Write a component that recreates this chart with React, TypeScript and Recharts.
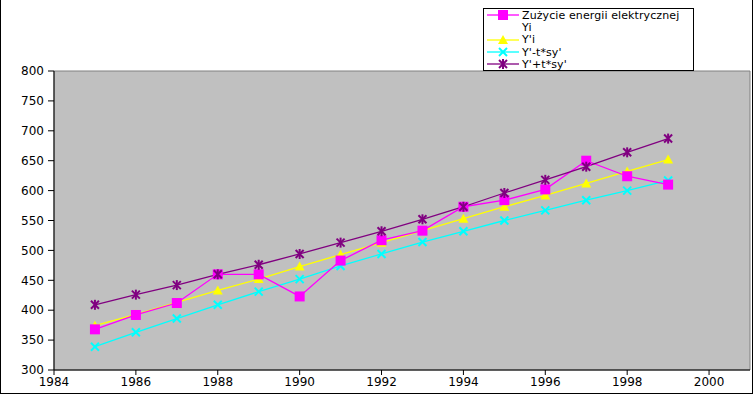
import { LineChart, Line, XAxis, YAxis, ReferenceArea } from 'recharts'

const years = [1985, 1986, 1987, 1988, 1989, 1990, 1991, 1992, 1993, 1994, 1995, 1996, 1997, 1998, 1999]
const usage = [368, 392, 412, 460, 460, 423, 483, 517, 533, 573, 584, 602, 650, 624, 610]
const trend = [374, 393, 413, 433, 452, 473, 493, 513, 533, 553, 573, 592, 612, 632, 652]
const lower = [339, 363, 386, 409, 431, 452, 474, 494, 514, 532, 550, 567, 584, 600, 617]
const upper = [409, 426, 442, 460, 476, 494, 513, 532, 552, 573, 596, 618, 640, 664, 687]

const xTicks = [1984, 1986, 1988, 1990, 1992, 1994, 1996, 1998, 2000]
const yTicks = [300, 350, 400, 450, 500, 550, 600, 650, 700, 750, 800]

const legendRows = [
  { label: 'Zużycie energii elektrycznej', color: '#ff00ff', shape: 'square' },
  { label: 'Yi', color: '', shape: '' },
  { label: "Y'i", color: '#ffff00', shape: 'triangle' },
  { label: "Y'-t*sy'", color: '#00ffff', shape: 'cross' },
  { label: "Y'+t*sy'", color: '#800080', shape: 'star' },
]

const data = years.map((year, i) => ({
  year,
  usage: usage[i],
  trend: trend[i],
  lower: lower[i],
  upper: upper[i],
}))

const FONT = '"DejaVu Sans", sans-serif'

function Marker({ cx, cy, shape, color }: { cx: number; cy: number; shape: string; color: string }) {
  if (shape === 'square') {
    return <rect x={cx - 5} y={cy - 5} width={10} height={10} fill={color} />
  }
  if (shape === 'triangle') {
    return <polygon points={`${cx},${cy - 5} ${cx + 5},${cy + 4} ${cx - 5},${cy + 4}`} fill={color} />
  }
  if (shape === 'cross') {
    return (
      <g stroke={color} strokeWidth={2}>
        <line x1={cx - 4} y1={cy - 4} x2={cx + 4} y2={cy + 4} />
        <line x1={cx - 4} y1={cy + 4} x2={cx + 4} y2={cy - 4} />
      </g>
    )
  }
  if (shape === 'star') {
    return (
      <g stroke={color} strokeWidth={2}>
        <line x1={cx - 4} y1={cy - 4} x2={cx + 4} y2={cy + 4} />
        <line x1={cx - 4} y1={cy + 4} x2={cx + 4} y2={cy - 4} />
        <line x1={cx} y1={cy - 5} x2={cx} y2={cy + 5} />
      </g>
    )
  }
  return null
}

const dot = (shape: string, color: string) => (props: any) => (
  <Marker key={`${shape}-${props.index}`} cx={props.cx} cy={props.cy} shape={shape} color={color} />
)

export default function App() {
  return (
    <div style={{ position: 'absolute', left: 0, top: 0, width: 753, height: 394, background: '#fff', fontFamily: FONT }}>
      <div
        style={{
          position: 'absolute',
          left: 0,
          top: 0,
          width: 753,
          height: 394,
          boxSizing: 'border-box',
          borderLeft: '1px solid #000',
          borderRight: '1px solid #000',
          borderBottom: '1px solid #000',
        }}
      />
      <div style={{ position: 'absolute', left: 0, top: 0 }}>
        <LineChart width={753} height={394} data={data} margin={{ top: 71, right: 3, bottom: 0, left: 0 }}>
          <ReferenceArea
            x1={1984}
            x2={2001}
            y1={300}
            y2={800}
            fill="#c0c0c0"
            fillOpacity={1}
            stroke="#808080"
            strokeWidth={1}
          />
          <XAxis
            dataKey="year"
            type="number"
            domain={[1984, 2001]}
            ticks={xTicks}
            allowDataOverflow
            height={24}
            tickSize={5}
            tickMargin={2}
            stroke="#000"
            tick={{ fill: '#000', fontSize: 12, fontFamily: FONT }}
          />
          <YAxis
            type="number"
            domain={[300, 800]}
            ticks={yTicks}
            width={54}
            tickSize={6}
            tickMargin={4}
            stroke="#000"
            tick={{ fill: '#000', fontSize: 12, fontFamily: FONT }}
          />
          <Line dataKey="trend" stroke="#ffff00" strokeWidth={1.3} dot={dot('triangle', '#ffff00')} isAnimationActive={false} />
          <Line dataKey="lower" stroke="#00ffff" strokeWidth={1.3} dot={dot('cross', '#00ffff')} isAnimationActive={false} />
          <Line dataKey="usage" stroke="#ff00ff" strokeWidth={1.3} dot={dot('square', '#ff00ff')} isAnimationActive={false} />
          <Line dataKey="upper" stroke="#800080" strokeWidth={1.3} dot={dot('star', '#800080')} isAnimationActive={false} />
        </LineChart>
      </div>
      <div
        style={{
          position: 'absolute',
          left: 483,
          top: 8,
          width: 211,
          height: 63,
          boxSizing: 'border-box',
          border: '1px solid #000',
          background: '#fff',
          paddingTop: 0,
        }}
      >
        {legendRows.map((row) => (
          <div key={row.label} style={{ display: 'flex', alignItems: 'center', height: 12.3, fontSize: 11, lineHeight: '11px' }}>
            <svg width={36} height={12} style={{ flexShrink: 0, marginLeft: 2 }}>
              {row.color && (
                <>
                  <line x1={1} y1={6} x2={33} y2={6} stroke={row.color} strokeWidth={1.3} />
                  <Marker cx={17} cy={6} shape={row.shape} color={row.color} />
                </>
              )}
            </svg>
            <span style={{ whiteSpace: 'nowrap', letterSpacing: 0.1 }}>{row.label}</span>
          </div>
        ))}
      </div>
    </div>
  )
}
